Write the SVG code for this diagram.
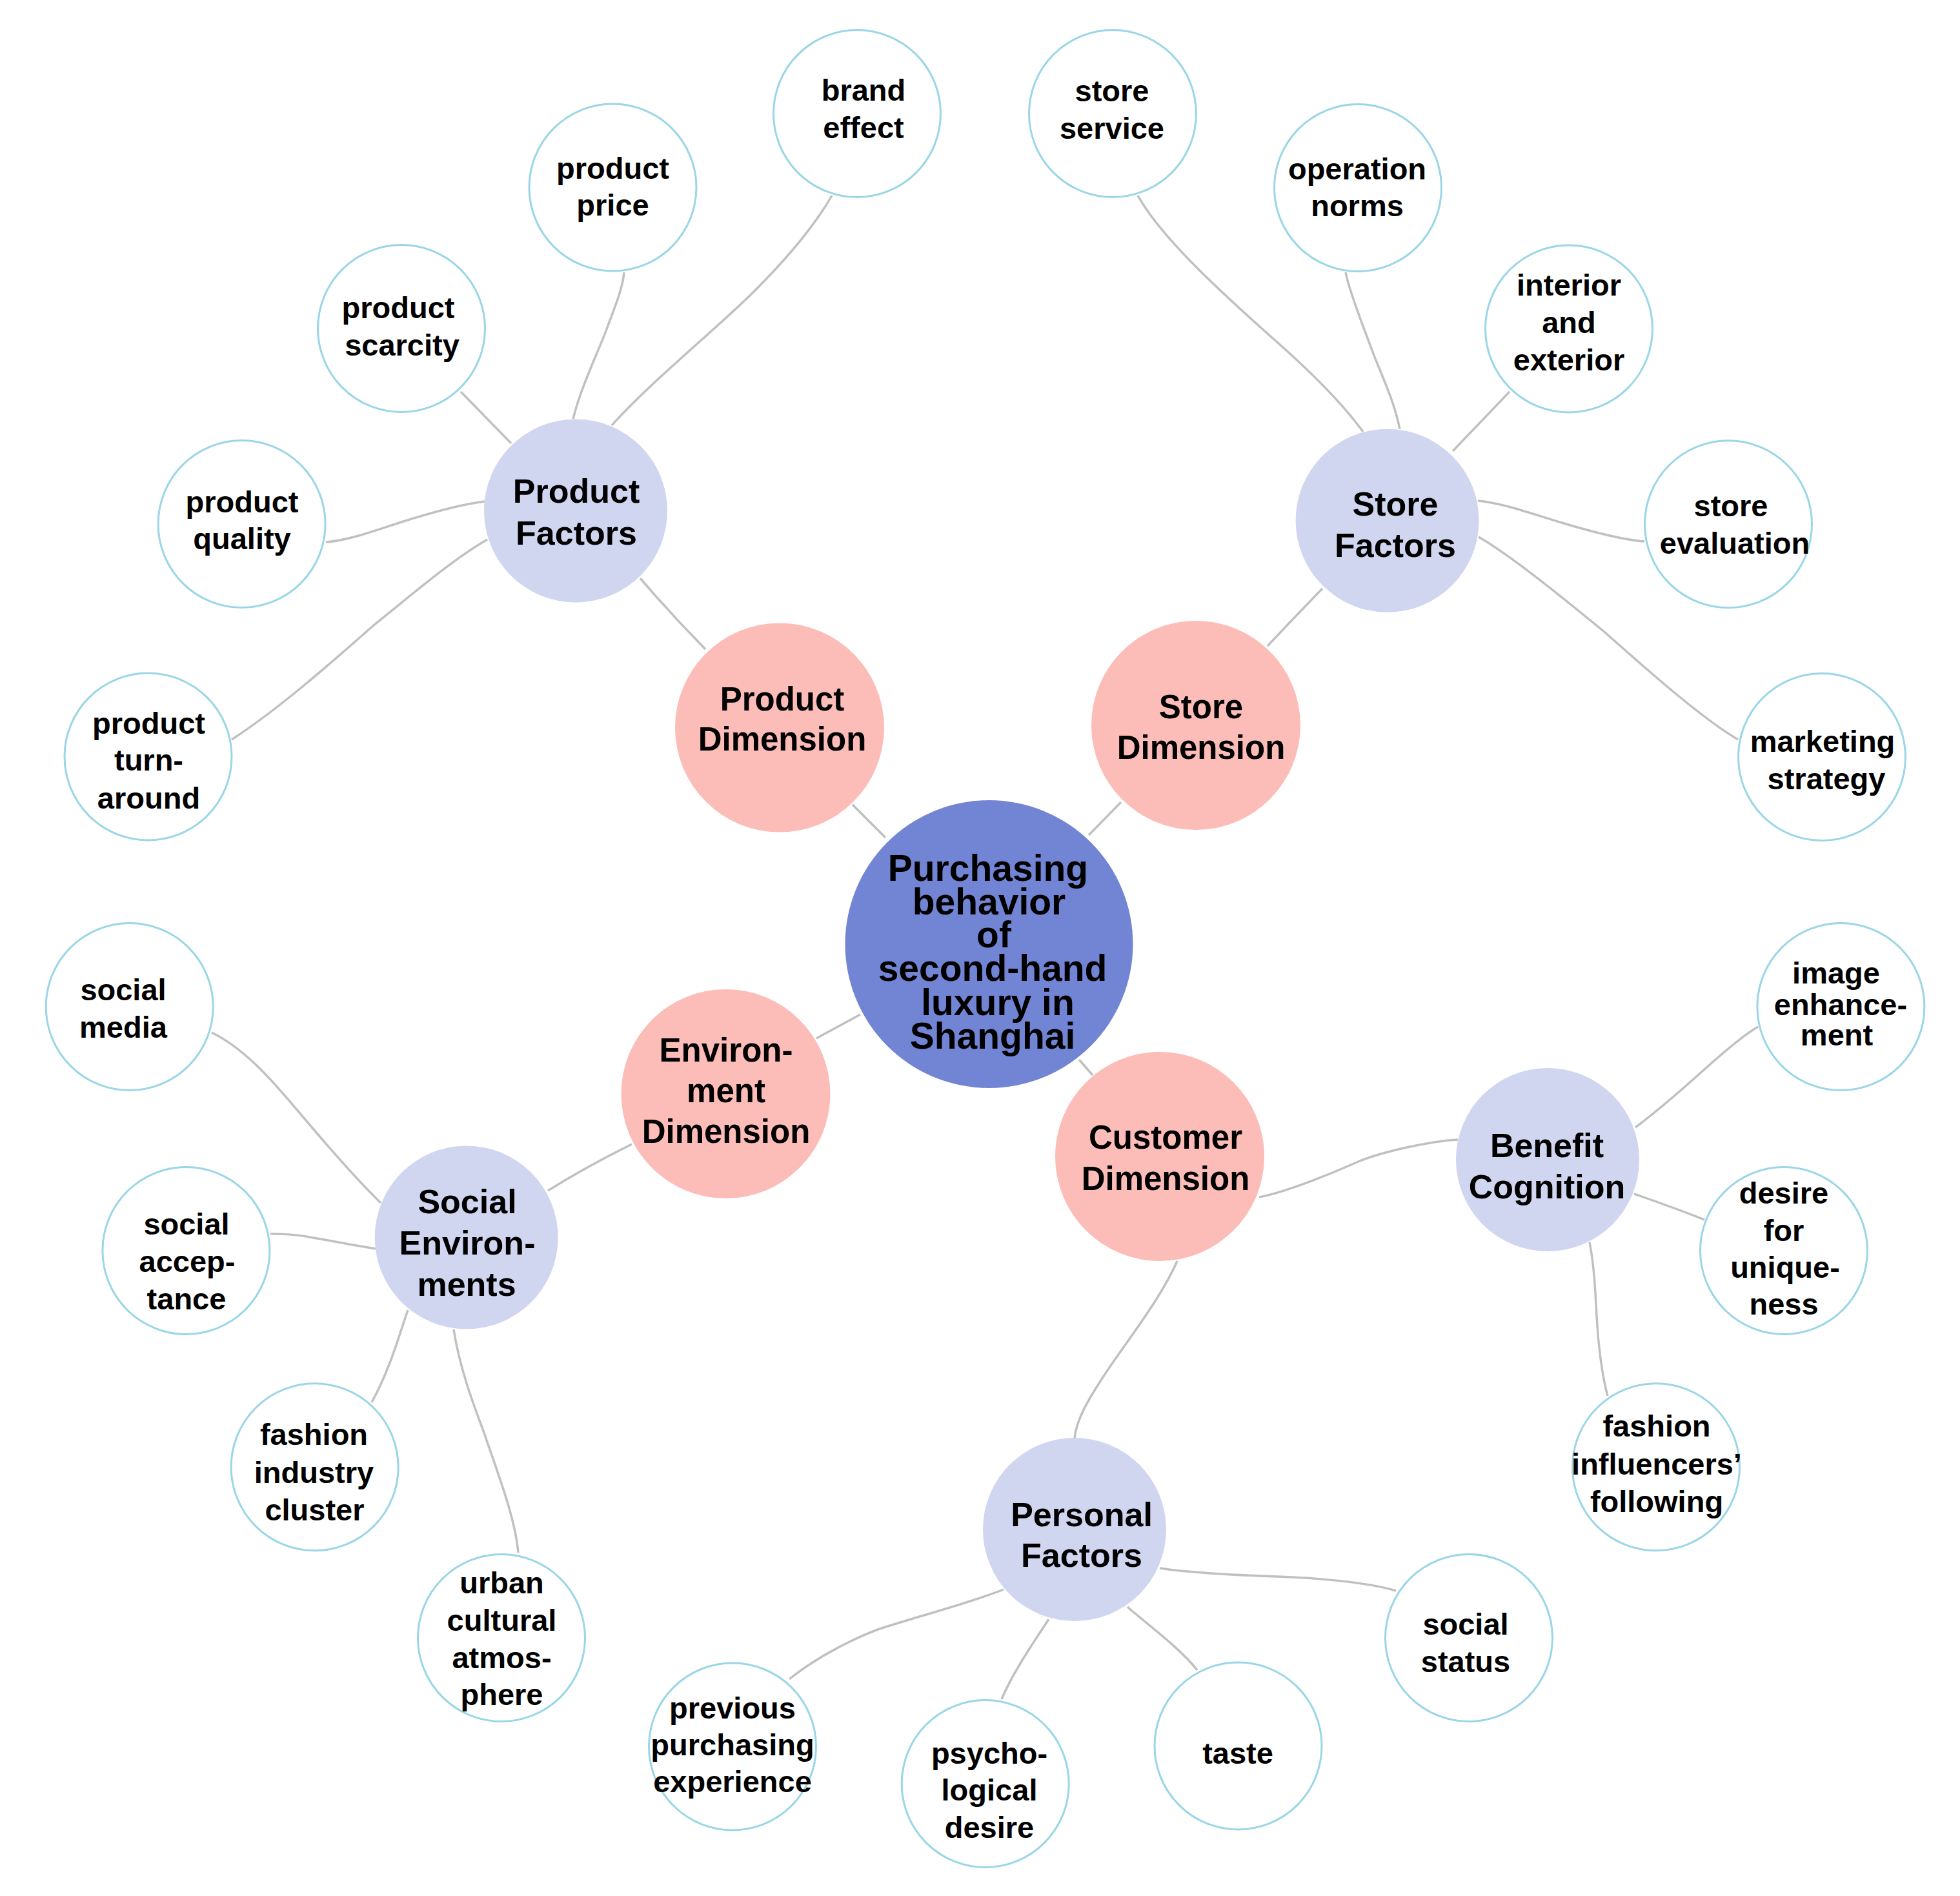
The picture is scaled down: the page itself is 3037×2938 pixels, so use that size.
<svg xmlns="http://www.w3.org/2000/svg" width="3037" height="2938" viewBox="0 0 3037 2938">
<style>
.e{fill:none;stroke:#c0c0c0;stroke-width:3.5}
.leaf{fill:#ffffff;stroke:#9ad6e6;stroke-width:3}
.fac{fill:#d0d5f0}
.dim{fill:#fcbcb8}
.ctr{fill:#7284d4}
text{font-family:"Liberation Sans",Arial,Helvetica,sans-serif;font-weight:bold;fill:#000;text-anchor:middle}
.tl{font-size:47px}
.tf{font-size:52px}
.td{font-size:51px}
.tc{font-size:57px}
</style>
<rect width="3037" height="2938" fill="#ffffff"/>
<g id="connectors">
<path class="e" d="M1372,1298 L1321,1247"/>
<path class="e" d="M1687,1294 L1737,1243"/>
<path class="e" d="M1333,1572 L1265,1609"/>
<path class="e" d="M1672,1642 L1693,1666"/>
<path class="e" d="M1093,1006 Q1040,952 992,896"/>
<path class="e" d="M1964,1001 Q2005,957 2049,912"/>
<path class="e" d="M979,1773 Q910,1807 849,1845"/>
<path class="e" d="M1951,1855 C1990,1848 2060,1820 2100,1802 S2220,1768 2259,1766"/>
<path class="e" d="M1824,1954 C1800,2010 1745,2080 1715,2125 S1668,2200 1665,2228"/>
<path class="e" d="M948,659 C1010,590 1110,510 1170,450 S1265,345 1289,303"/>
<path class="e" d="M888,649 C900,600 925,550 940,510 S965,445 967,422"/>
<path class="e" d="M792,687 L714,607"/>
<path class="e" d="M751,777 C710,782 660,797 625,808 S540,838 505,840"/>
<path class="e" d="M755,836 C700,868 640,920 580,968 C510,1030 430,1100 359,1146"/>
<path class="e" d="M2112,669 C2080,625 2030,575 1973,525 C1900,460 1800,370 1763,303"/>
<path class="e" d="M2169,665 C2160,620 2140,580 2128,548 S2090,450 2085,422"/>
<path class="e" d="M2251,699 L2339,607"/>
<path class="e" d="M2290,776 C2330,780 2370,795 2420,810 S2520,837 2548,839"/>
<path class="e" d="M2291,832 C2340,860 2420,925 2487,980 C2560,1045 2640,1115 2693,1146"/>
<path class="e" d="M590,1864 C560,1835 520,1790 485,1749 C440,1697 390,1630 328,1600"/>
<path class="e" d="M582,1935 C550,1930 510,1922 480,1917 S435,1912 419,1912"/>
<path class="e" d="M632,2030 C618,2070 605,2120 576,2173"/>
<path class="e" d="M703,2060 C712,2120 735,2180 750,2220 C770,2280 798,2350 803,2406"/>
<path class="e" d="M2534,1747 C2570,1720 2610,1685 2640,1658 S2700,1605 2724,1591"/>
<path class="e" d="M2532,1850 Q2590,1870 2641,1890"/>
<path class="e" d="M2463,1925 C2470,1960 2472,2000 2474,2040 S2482,2130 2491,2163"/>
<path class="e" d="M1797,2430 C1850,2438 1920,2441 1980,2443 S2120,2452 2163,2465"/>
<path class="e" d="M1747,2490 C1775,2515 1830,2555 1855,2588"/>
<path class="e" d="M1625,2509 C1605,2540 1570,2590 1552,2633"/>
<path class="e" d="M1555,2463 C1500,2485 1420,2505 1360,2525 C1300,2548 1250,2580 1223,2602"/>
</g>
<g id="center">
<circle class="ctr" cx="1532.5" cy="1463" r="223"/>
<text class="tc" x="1531" y="1365">Purchasing</text>
<text class="tc" x="1532.5" y="1417">behavior</text>
<text class="tc" x="1540" y="1468">of</text>
<text class="tc" x="1538" y="1520">second-hand</text>
<text class="tc" x="1546" y="1573">luxury in</text>
<text class="tc" x="1538" y="1625">Shanghai</text>
</g>
<g id="product-dimension">
<circle class="dim" cx="1208" cy="1127.5" r="162"/>
<text class="td" x="1212" y="1101">Product</text>
<text class="td" x="1212" y="1163">Dimension</text>
</g>
<g id="store-dimension">
<circle class="dim" cx="1853" cy="1124" r="162"/>
<text class="td" x="1861" y="1113">Store</text>
<text class="td" x="1861" y="1176">Dimension</text>
</g>
<g id="environment-dimension">
<circle class="dim" cx="1124.5" cy="1695" r="162"/>
<text class="td" x="1125" y="1645">Environ-</text>
<text class="td" x="1125" y="1708">ment</text>
<text class="td" x="1125" y="1771">Dimension</text>
</g>
<g id="customer-dimension">
<circle class="dim" cx="1797" cy="1792" r="162"/>
<text class="td" x="1806" y="1780">Customer</text>
<text class="td" x="1806" y="1844">Dimension</text>
</g>
<g id="product-factors">
<circle class="fac" cx="892" cy="791.5" r="142"/>
<text class="tf" x="893" y="779">Product</text>
<text class="tf" x="893" y="844">Factors</text>
</g>
<g id="store-factors">
<circle class="fac" cx="2149.6" cy="806.7" r="142"/>
<text class="tf" x="2162" y="799">Store</text>
<text class="tf" x="2162" y="863">Factors</text>
</g>
<g id="social-environments">
<circle class="fac" cx="722.7" cy="1917.5" r="142"/>
<text class="tf" x="724" y="1880">Social</text>
<text class="tf" x="724" y="1944">Environ-</text>
<text class="tf" x="723" y="2008">ments</text>
</g>
<g id="benefit-cognition">
<circle class="fac" cx="2398" cy="1797" r="142"/>
<text class="tf" x="2397" y="1793">Benefit</text>
<text class="tf" x="2397" y="1857">Cognition</text>
</g>
<g id="personal-factors">
<circle class="fac" cx="1665" cy="2370" r="142"/>
<text class="tf" x="1676" y="2365">Personal</text>
<text class="tf" x="1676" y="2428">Factors</text>
</g>
<g id="brand-effect">
<circle class="leaf" cx="1328" cy="176" r="129.5"/>
<text class="tl" x="1338" y="156">brand</text>
<text class="tl" x="1338" y="214">effect</text>
</g>
<g id="product-price">
<circle class="leaf" cx="949.5" cy="290.5" r="129.5"/>
<text class="tl" x="949.5" y="277">product</text>
<text class="tl" x="949.5" y="334">price</text>
</g>
<g id="product-scarcity">
<circle class="leaf" cx="622" cy="509" r="129.5"/>
<text class="tl" x="617" y="493">product</text>
<text class="tl" x="623" y="551">scarcity</text>
</g>
<g id="product-quality">
<circle class="leaf" cx="374.6" cy="812" r="129.5"/>
<text class="tl" x="375" y="794">product</text>
<text class="tl" x="375" y="851">quality</text>
</g>
<g id="product-turnaround">
<circle class="leaf" cx="229.5" cy="1172.5" r="129.5"/>
<text class="tl" x="230.5" y="1137">product</text>
<text class="tl" x="230.5" y="1194">turn-</text>
<text class="tl" x="230.5" y="1253">around</text>
</g>
<g id="store-service">
<circle class="leaf" cx="1724" cy="176" r="129.5"/>
<text class="tl" x="1723" y="157">store</text>
<text class="tl" x="1723" y="215">service</text>
</g>
<g id="operation-norms">
<circle class="leaf" cx="2104" cy="291" r="129.5"/>
<text class="tl" x="2103" y="278">operation</text>
<text class="tl" x="2103" y="335">norms</text>
</g>
<g id="interior-exterior">
<circle class="leaf" cx="2431" cy="509.5" r="129.5"/>
<text class="tl" x="2431" y="458">interior</text>
<text class="tl" x="2431" y="516">and</text>
<text class="tl" x="2431" y="574">exterior</text>
</g>
<g id="store-evaluation">
<circle class="leaf" cx="2678" cy="812.3" r="129.5"/>
<text class="tl" x="2682" y="800">store</text>
<text class="tl" x="2688" y="858">evaluation</text>
</g>
<g id="marketing-strategy">
<circle class="leaf" cx="2823" cy="1173" r="129.5"/>
<text class="tl" x="2824" y="1165">marketing</text>
<text class="tl" x="2830" y="1223">strategy</text>
</g>
<g id="social-media">
<circle class="leaf" cx="200.7" cy="1560" r="129.5"/>
<text class="tl" x="191" y="1550">social</text>
<text class="tl" x="191" y="1608">media</text>
</g>
<g id="social-acceptance">
<circle class="leaf" cx="288.4" cy="1938" r="129.5"/>
<text class="tl" x="289" y="1913">social</text>
<text class="tl" x="290" y="1971">accep-</text>
<text class="tl" x="289" y="2029">tance</text>
</g>
<g id="fashion-industry-cluster">
<circle class="leaf" cx="487.6" cy="2273.3" r="129.5"/>
<text class="tl" x="486.5" y="2239">fashion</text>
<text class="tl" x="486.5" y="2298">industry</text>
<text class="tl" x="487.5" y="2356">cluster</text>
</g>
<g id="urban-cultural-atmosphere">
<circle class="leaf" cx="777" cy="2538" r="129.5"/>
<text class="tl" x="777.5" y="2469">urban</text>
<text class="tl" x="777.5" y="2527">cultural</text>
<text class="tl" x="777.5" y="2585">atmos-</text>
<text class="tl" x="777.5" y="2642">phere</text>
</g>
<g id="previous-purchasing-experience">
<circle class="leaf" cx="1135" cy="2706.4" r="129.5"/>
<text class="tl" x="1135" y="2663">previous</text>
<text class="tl" x="1135" y="2720">purchasing</text>
<text class="tl" x="1135" y="2777">experience</text>
</g>
<g id="psychological-desire">
<circle class="leaf" cx="1526.7" cy="2764" r="129.5"/>
<text class="tl" x="1533" y="2733">psycho-</text>
<text class="tl" x="1533" y="2790">logical</text>
<text class="tl" x="1533" y="2848">desire</text>
</g>
<g id="taste">
<circle class="leaf" cx="1918.5" cy="2705.5" r="129.5"/>
<text class="tl" x="1918" y="2733">taste</text>
</g>
<g id="social-status">
<circle class="leaf" cx="2276" cy="2538" r="129.5"/>
<text class="tl" x="2271" y="2533">social</text>
<text class="tl" x="2271" y="2591">status</text>
</g>
<g id="fashion-influencers-following">
<circle class="leaf" cx="2566" cy="2273.3" r="129.5"/>
<text class="tl" x="2567" y="2226">fashion</text>
<text class="tl" x="2567" y="2285">influencers’</text>
<text class="tl" x="2567" y="2343">following</text>
</g>
<g id="desire-for-uniqueness">
<circle class="leaf" cx="2764" cy="1938" r="129.5"/>
<text class="tl" x="2764" y="1865">desire</text>
<text class="tl" x="2764" y="1923">for</text>
<text class="tl" x="2766" y="1980">unique-</text>
<text class="tl" x="2764" y="2037">ness</text>
</g>
<g id="image-enhancement">
<circle class="leaf" cx="2852.4" cy="1560" r="129.5"/>
<text class="tl" x="2845" y="1524">image</text>
<text class="tl" x="2852" y="1573">enhance-</text>
<text class="tl" x="2846" y="1620">ment</text>
</g>
</svg>
